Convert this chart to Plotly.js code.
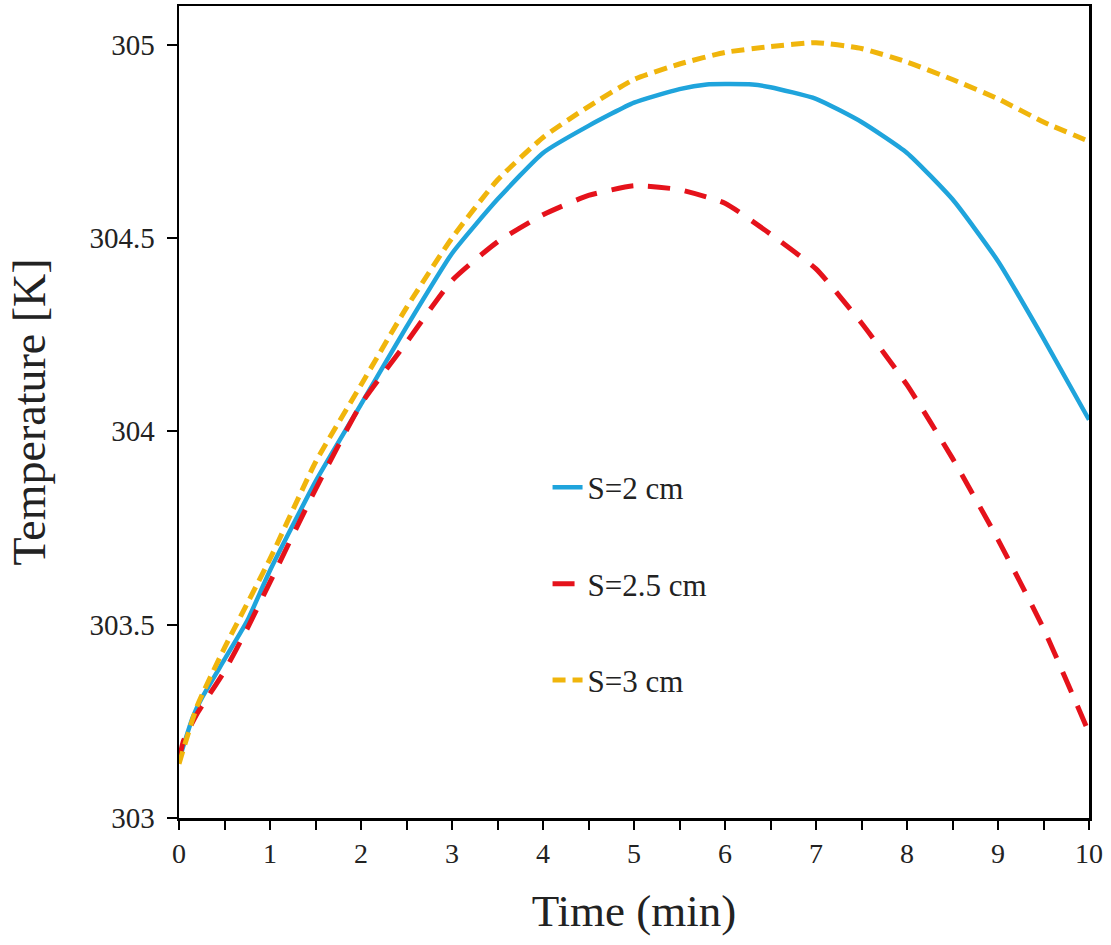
<!DOCTYPE html>
<html>
<head>
<meta charset="utf-8">
<script src="https://cdn.plot.ly/plotly-3.0.1.min.js"></script>
<style>html,body{margin:0;padding:0;background:#fff;}#chart{width:1111px;height:945px;}</style>
</head>
<body>
<div id="chart"></div>
<script>
// Time (min)
const timeS2 = [0, 0.15, 0.25, 0.5, 0.75, 1, 1.5, 2, 2.5, 3, 3.5, 4, 4.5, 5, 5.5, 5.8, 6, 6.3, 6.5, 7, 7.5, 8, 8.5, 9, 9.5, 10];
const tempS2 = [303.15, 303.26, 303.31, 303.41, 303.51, 303.64, 303.87, 304.07, 304.27, 304.46, 304.60, 304.72, 304.79, 304.85, 304.885, 304.897, 304.898, 304.897, 304.89, 304.86, 304.80, 304.72, 304.60, 304.44, 304.24, 304.03];

const timeS25 = [0, 0.05, 0.2, 0.5, 0.75, 1, 1.5, 2, 2.5, 3, 3.5, 4, 4.5, 5, 5.5, 6, 6.5, 7, 7.5, 8, 8.5, 9, 9.5, 10];
const tempS25 = [303.15, 303.20, 303.27, 303.38, 303.49, 303.61, 303.85, 304.07, 304.23, 304.39, 304.49, 304.56, 304.61, 304.635, 304.625, 304.59, 304.51, 304.42, 304.28, 304.12, 303.93, 303.72, 303.49, 303.22];

const timeS3 = [0, 0.2, 0.5, 1, 1.5, 2, 2.5, 3, 3.5, 4, 4.5, 5, 5.5, 6, 6.5, 7, 7.5, 8, 8.5, 9, 9.5, 10];
const tempS3 = [303.14, 303.29, 303.44, 303.67, 303.92, 304.12, 304.32, 304.50, 304.65, 304.76, 304.84, 304.91, 304.95, 304.98, 304.995, 305.005, 304.99, 304.955, 304.91, 304.86, 304.80, 304.75];

const seriesNames = ["S=2 cm", "S=2.5 cm", "S=3 cm"];
const xTickVals = [0, 1, 2, 3, 4, 5, 6, 7, 8, 9, 10];
const yTickVals = [303, 303.5, 304, 304.5, 305];
const yTickText = ["303", "303.5", "304", "304.5", "305"];

const FONT = "Liberation Serif, Times New Roman, serif";

const traces = [
  {x: timeS2, y: tempS2, name: seriesNames[0], legendgroup: "a", mode: "lines",
   line: {color: "#1fa4dc", width: 4.5, shape: "spline", smoothing: 0.5}},
  {x: timeS25, y: tempS25, name: seriesNames[1], legendgroup: "b", mode: "lines",
   line: {color: "#e5121b", width: 5, dash: "22px,15px", shape: "spline", smoothing: 0.5}},
  {x: timeS3, y: tempS3, name: seriesNames[2], legendgroup: "c", mode: "lines",
   line: {color: "#f0b50c", width: 5, dash: "13px,7px", shape: "spline", smoothing: 0.5}}
];

const layout = {
  width: 1111, height: 945,
  margin: {l: 179, r: 22, t: 6, b: 127},
  paper_bgcolor: "#fff", plot_bgcolor: "#fff",
  font: {family: FONT, color: "#222", size: 28},
  showlegend: true,
  legend: {x: 0.405, y: 0.44, xanchor: "left", yanchor: "top",
    bgcolor: "rgba(0,0,0,0)", font: {family: FONT, size: 31, color: "#222"},
    tracegroupgap: 53, traceorder: "grouped"},
  xaxis: {
    range: [0, 10], tickvals: xTickVals, ticks: "outside", ticklen: 9, tickwidth: 2, tickcolor: "#000",
    minor: {dtick: 0.5, tick0: 0, ticks: "outside", ticklen: 9, tickwidth: 2, tickcolor: "#000", showgrid: false},
    showline: true, linecolor: "#000", linewidth: 2.5, mirror: true,
    showgrid: false, zeroline: false,
    tickfont: {family: FONT, size: 28, color: "#222"},
    title: {text: "Time (min)", font: {family: FONT, size: 45, color: "#222"}, standoff: 27}
  },
  yaxis: {
    range: [303, 305.1], tickvals: yTickVals, ticktext: yTickText, ticks: "outside", ticklen: 10, tickwidth: 2, tickcolor: "#000",
    showline: true, linecolor: "#000", linewidth: 2.5, mirror: true,
    showgrid: false, zeroline: false, ticklabelstandoff: 6,
    tickfont: {family: FONT, size: 29, color: "#222"},
    title: {text: "Temperature [K]", font: {family: FONT, size: 46, color: "#222"}, standoff: 30}
  }
};

Plotly.newPlot("chart", traces, layout, {displayModeBar: false, staticPlot: true});
</script>
</body>
</html>
